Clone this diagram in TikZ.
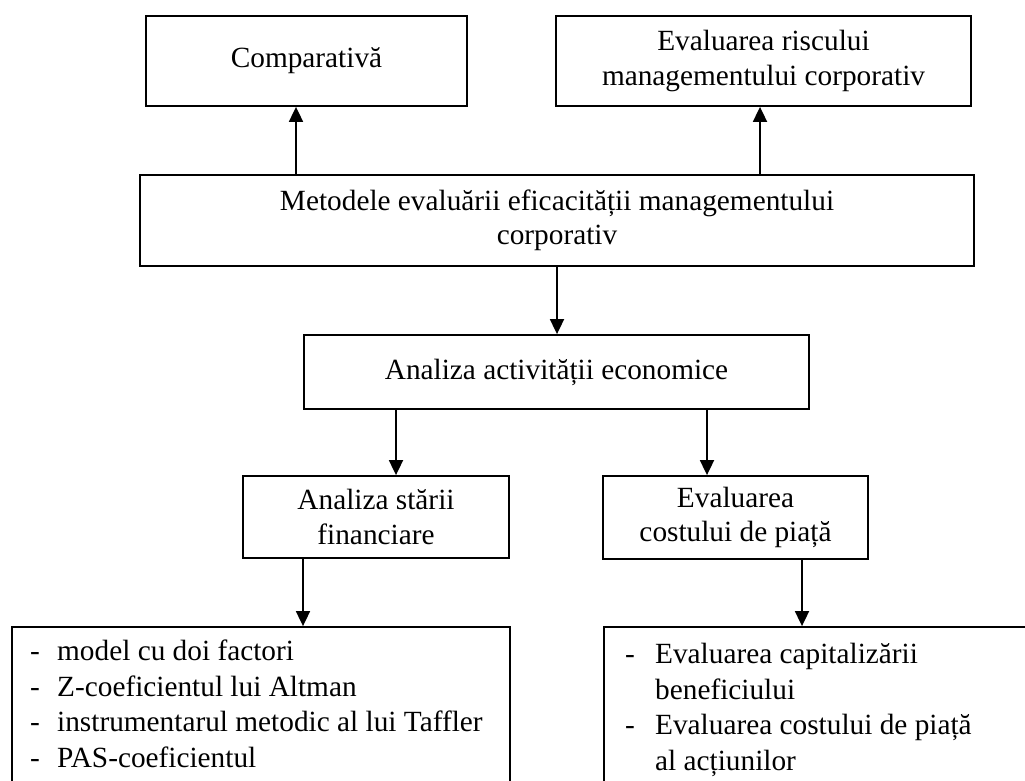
\documentclass[tikz,border=0pt]{standalone}
\usepackage{fontspec}
\setmainfont{Liberation Serif}
\usetikzlibrary{arrows.meta,calc}
\begin{document}
\begin{tikzpicture}[x=1pt,y=-1pt,
  box/.style={draw, line width=1.8pt, inner sep=0pt, align=center,
    font=\fontsize{29.3}{34.5}\selectfont},
  arr/.style={line width=1.8pt, -{Triangle[length=15pt,width=14pt]}},
  txt/.style={inner sep=0pt, align=left, anchor=north west,
    font=\fontsize{29.3}{35.5}\selectfont}]
\useasboundingbox[fill=white] (0,0) rectangle (1025,781);
\clip (0,0) rectangle (1025,781);

\node[box, minimum width=321pt, minimum height=90pt] (comp) at (306.5,61) {Comparativă};
\node[box, minimum width=415pt, minimum height=90pt] (risc) at (763.5,61) {Evaluarea riscului\\managementului corporativ};
\node[box, minimum width=834pt, minimum height=91pt] (met) at (557,220.5) {Metodele evaluării eficacității managementului\\corporativ};
\node[box, minimum width=505pt, minimum height=74pt] (act) at (556.5,372) {Analiza activității economice};
\node[box, minimum width=266pt, minimum height=82pt] (fin) at (376,517) {Analiza stării\\financiare};
\node[box, minimum width=265pt, minimum height=83pt] (cost) at (735.5,517.5) {Evaluarea\\costului de piață};
\node[box, minimum width=498pt, minimum height=200pt] (lb) at (261,727) {};
\node[box, minimum width=440pt, minimum height=200pt] (rb) at (824,727) {};

\node[txt] (lbt) at (30,640) {\makebox[27pt][l]{-}model cu doi factori\\
\makebox[27pt][l]{-}Z-coeficientul lui Altman\\
\makebox[27pt][l]{-}instrumentarul metodic al lui Taffler\\
\makebox[27pt][l]{-}PAS-coeficientul};
\node[txt] (rbt) at (625,643) {\makebox[30pt][l]{-}Evaluarea capitalizării\\
\hspace*{30pt}beneficiului\\
\makebox[30pt][l]{-}Evaluarea costului de piață\\
\hspace*{30pt}al acțiunilor};

\draw[arr] ($(met.north -| comp.south)+(-10.5,0)$) -- ($(comp.south)+(-10.5,0)$);
\draw[arr] ($(met.north -| risc.south)+(-3.5,0)$) -- ($(risc.south)+(-3.5,0)$);
\draw[arr] (met.south) -- (met.south |- act.north);
\draw[arr] ($(act.south -| fin.north)+(20,0)$) -- ($(fin.north)+(20,0)$);
\draw[arr] ($(act.south -| cost.north)+(-28.5,0)$) -- ($(cost.north)+(-28.5,0)$);
\draw[arr] ($(fin.south)+(-73,0)$) -- ($(fin.south |- lb.north)+(-73,0)$);
\draw[arr] ($(cost.south)+(66.5,0)$) -- ($(cost.south |- rb.north)+(66.5,0)$);
\end{tikzpicture}
\end{document}
